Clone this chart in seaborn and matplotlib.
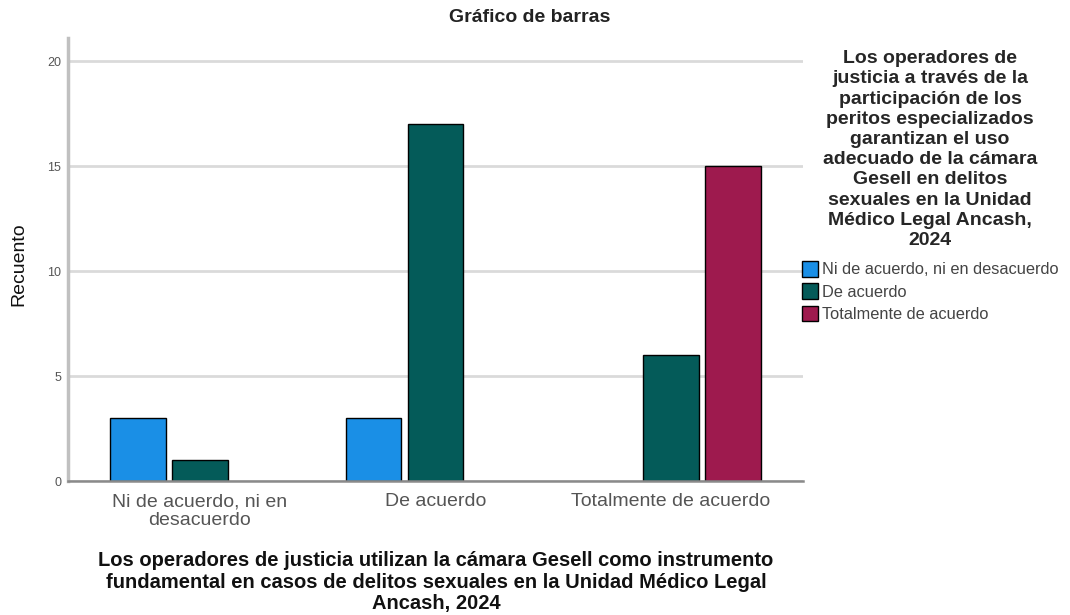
import pandas as pd
import matplotlib.pyplot as plt
import seaborn as sns

# Datos
grupos = ["Ni de acuerdo, ni en\ndesacuerdo", "De acuerdo", "Totalmente de acuerdo"]
respuestas = ["Ni de acuerdo, ni en desacuerdo", "De acuerdo", "Totalmente de acuerdo"]

grupo_col = ["Ni de acuerdo, ni en\ndesacuerdo", "Ni de acuerdo, ni en\ndesacuerdo",
             "De acuerdo", "De acuerdo",
             "Totalmente de acuerdo", "Totalmente de acuerdo"]
respuesta_col = ["Ni de acuerdo, ni en desacuerdo", "De acuerdo",
                 "Ni de acuerdo, ni en desacuerdo", "De acuerdo",
                 "De acuerdo", "Totalmente de acuerdo"]
recuento_col = [3, 1, 3, 17, 6, 15]

colores = ["#1a8fe6", "#045b59", "#9e1a4e"]

titulo = "Gráfico de barras"
titulo_x = ("Los operadores de justicia utilizan la cámara Gesell como instrumento\n"
            "fundamental en casos de delitos sexuales en la Unidad Médico Legal\n"
            "Ancash, 2024")
titulo_leyenda = ("Los operadores de\njusticia a través de la\nparticipación de los\n"
                  "peritos especializados\ngarantizan el uso\nadecuado de la cámara\n"
                  "Gesell en delitos\nsexuales en la Unidad\nMédico Legal Ancash,\n2024")

df = pd.DataFrame({"Grupo": grupo_col, "Respuesta": respuesta_col, "Recuento": recuento_col})

sns.set_theme(style="white")
plt.rcParams['font.family'] = ['Liberation Sans', 'DejaVu Sans']

W, H = 1070, 615
fig = plt.figure(figsize=(W / 100, H / 100), dpi=100)
ax = fig.add_axes([68 / W, 1 - 481 / H, (803 - 68) / W, (481 - 38) / H])

sns.barplot(
    data=df, x="Grupo", y="Recuento", hue="Respuesta",
    order=grupos, hue_order=respuestas, palette=colores, saturation=1,
    width=0.79, gap=0.1, edgecolor="black", linewidth=1,
    errorbar=None, ax=ax
)

ax.set_xlim(-0.56, 2.56)
ax.set_ylim(0, 21.1)
ax.set_yticks([0, 5, 10, 15, 20])
ax.yaxis.grid(True, color="#dadada", linewidth=2)
ax.set_axisbelow(True)
for s in ["top", "right"]:
    ax.spines[s].set_visible(False)
ax.spines["left"].set_color("#c0c0c0")
ax.spines["left"].set_linewidth(2.5)
ax.spines["bottom"].set_color("#8a8a8a")
ax.spines["bottom"].set_linewidth(1.8)
ax.tick_params(axis="y", length=0, pad=5, labelsize=9, labelcolor="#555555")
ax.tick_params(axis="x", length=0, pad=9, labelsize=14, labelcolor="#555555")
for lbl in ax.get_xticklabels():
    lbl.set_linespacing(1.1)
ax.set_xlabel("")
ax.set_ylabel("")

handles, labels = ax.get_legend_handles_labels()
ax.get_legend().remove()
leg = fig.legend(
    handles, labels, title=titulo_leyenda, loc="upper left",
    bbox_to_anchor=(802 / W, 1 - 50 / H), frameon=False,
    fontsize=11.8, title_fontproperties={"weight": "bold", "size": 14},
    handlelength=1.0, handleheight=1.1, handletextpad=0.2,
    labelspacing=0.36, borderpad=0, borderaxespad=0, alignment="center"
)
for t in leg.get_texts():
    t.set_color("#444444")
leg.get_title().set_multialignment("center")
leg.get_title().set_linespacing(1.25)
leg._legend_box.sep = 8.5  # más espacio entre título y entradas

fig.text(530 / W, 1 - 18 / H, titulo, ha="center", va="center",
         fontsize=14, fontweight="bold", color="#222222")
fig.text(19 / W, 1 - 264 / H, "Recuento", ha="center", va="center",
         rotation=90, fontsize=14, color="#111111")
fig.text(436 / W, 1 - 582 / H, titulo_x, ha="center", va="center",
         multialignment="center", fontsize=14.5, fontweight="bold",
         linespacing=1.2, color="#111111")

fig.savefig("out.png", dpi=100)
